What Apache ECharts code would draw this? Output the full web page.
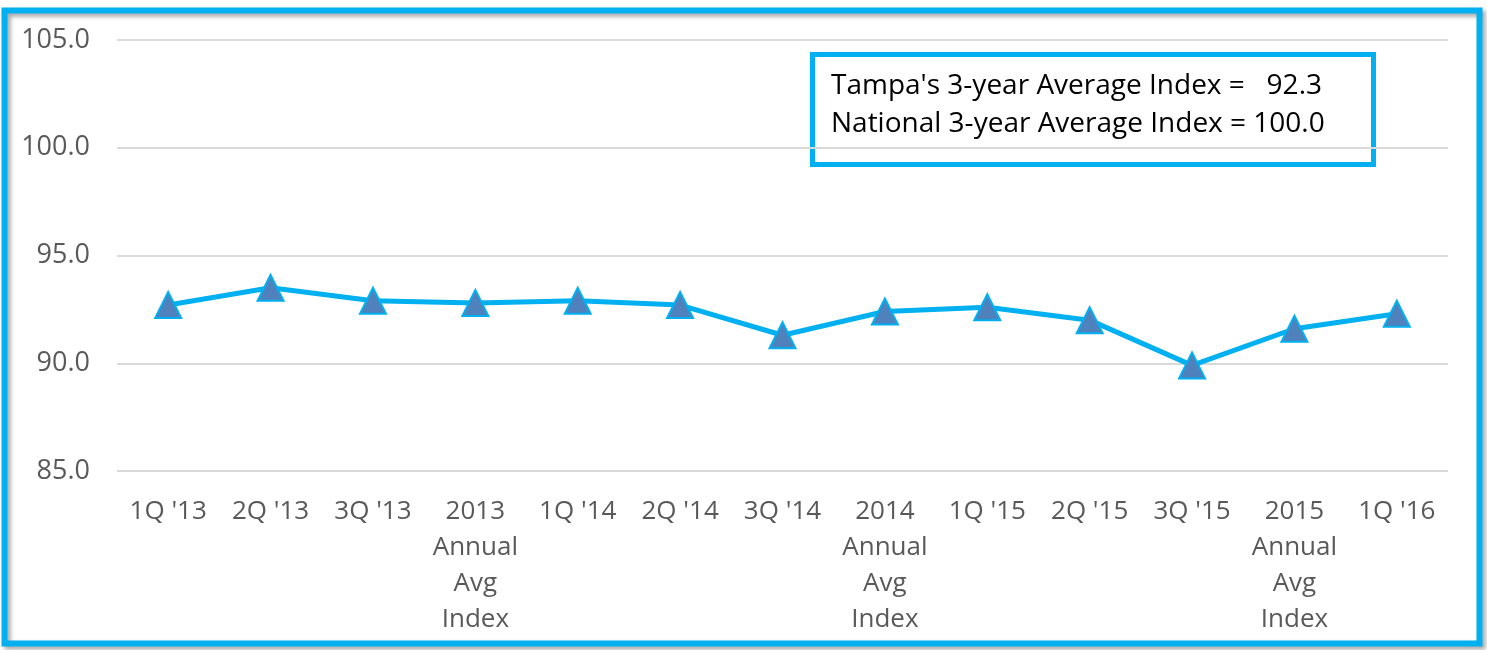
<!DOCTYPE html>
<html>
<head>
<meta charset="utf-8">
<script src="https://cdn.jsdelivr.net/npm/echarts@6/dist/echarts.min.js"></script>
<style>
  html, body { margin: 0; padding: 0; background: #fff; }
  #chart { width: 1487px; height: 650px; }
</style>
</head>
<body>
<div id="chart"></div>
<script>
const categorias = ["1Q '13", "2Q '13", "3Q '13", "2013\nAnnual\nAvg\nIndex", "1Q '14", "2Q '14", "3Q '14",
    "2014\nAnnual\nAvg\nIndex", "1Q '15", "2Q '15", "3Q '15", "2015\nAnnual\nAvg\nIndex", "1Q '16"];
const indice = [92.7, 93.5, 92.9, 92.8, 92.9, 92.7, 91.3, 92.4, 92.6, 92.0, 89.9, 91.6, 92.3];
const notaLineas = ["Tampa's 3-year Average Index =   92.3", "National 3-year Average Index = 100.0"];

const chart = echarts.init(document.getElementById("chart"));

chart.setOption({
    animation: false,
    backgroundColor: '#fff',
    grid: { left: 117, right: 39, top: 40, bottom: 179 },
    xAxis: {
        type: 'category',
        data: categorias,
        axisLine: { show: false },
        axisTick: { show: false },
        axisLabel: {
            interval: 0,
            margin: 23,
            fontFamily: 'Open Sans',
            fontSize: 26,
            lineHeight: 36,
            color: '#595959'
        }
    },
    yAxis: {
        type: 'value',
        min: 85,
        max: 105,
        interval: 5,
        axisLine: { show: false },
        axisTick: { show: false },
        axisLabel: {
            margin: 27,
            fontFamily: 'Open Sans',
            fontSize: 27,
            color: '#595959',
            formatter: v => v.toFixed(1)
        },
        splitLine: { lineStyle: { color: '#D9D9D9', width: 2 } }
    },
    graphic: [
        {
            type: 'rect',
            z: 100,
            shape: { x: 4.5, y: 10.5, width: 1475, height: 633 },
            style: {
                fill: 'none',
                stroke: '#00B0F0',
                lineWidth: 6,
                shadowColor: 'rgba(0,0,0,0.35)',
                shadowBlur: 4,
                shadowOffsetX: 3,
                shadowOffsetY: 3
            }
        },
        {
            type: 'group',
            left: 810,
            top: 52,
            z: 100,
            children: [
                {
                    type: 'rect',
                    shape: { x: 2.5, y: 2.5, width: 561, height: 110 },
                    style: { fill: '#fff', stroke: '#00B0F0', lineWidth: 5 }
                },
                {
                    type: 'text',
                    x: 21,
                    y: 15,
                    style: {
                        text: notaLineas.join('\n'),
                        fontFamily: 'Open Sans',
                        fontSize: 28,
                        lineHeight: 38,
                        fill: '#000'
                    }
                }
            ]
        }
    ],
    series: [{
        name: 'Index',
        type: 'line',
        data: indice,
        symbol: 'triangle',
        symbolSize: 26,
        lineStyle: { color: '#00B0F0', width: 5 },
        itemStyle: { color: '#4F81BD', borderColor: '#00B0F0', borderWidth: 2 }
    }]
});
</script>
</body>
</html>
